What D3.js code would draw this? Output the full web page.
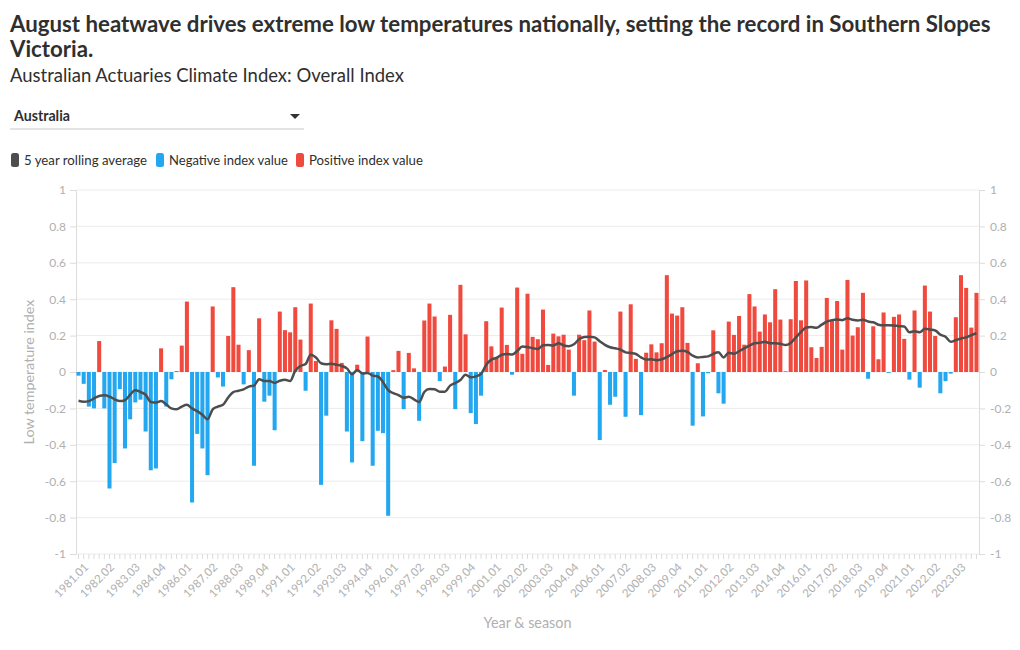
<!DOCTYPE html>
<html><head><meta charset="utf-8">
<script src="https://cdn.jsdelivr.net/npm/d3@7"></script>
<style>
body{margin:0;background:#fff;}
svg{display:block;font-family:Lato,"Open Sans",sans-serif;}
</style></head><body>
<svg id="chart" width="1020" height="650"></svg>
<script>
// ---- DATA ----
const startYear = 1981;
const endYear = 2024;
const endSeason = 3;
const seasons = ["01", "02", "03", "04"];

const indexValues = [
  -0.02, -0.065, -0.19, -0.20, 0.17, -0.20, -0.64, -0.50, -0.094, -0.42,
  -0.26, -0.167, -0.152, -0.327, -0.54, -0.53, 0.13, -0.19, -0.04, 0.005,
  0.145, 0.387, -0.717, -0.34, -0.42, -0.567, 0.36, -0.03, -0.08, 0.198,
  0.466, 0.15, -0.068, 0.12, -0.515, 0.295, -0.163, -0.13, -0.32, 0.332,
  0.23, 0.218, 0.356, 0.178, -0.103, 0.376, 0.06, -0.62, -0.24, 0.284,
  0.237, 0.05, -0.327, -0.497, 0.04, -0.38, 0.195, -0.515, -0.323, -0.336,
  -0.79, 0.01, 0.116, -0.204, 0.105, 0.02, -0.268, 0.283, 0.376, 0.305,
  -0.05, 0.03, 0.314, -0.204, 0.479, 0.207, -0.226, -0.286, -0.13, 0.279,
  0.141, 0.083, 0.354, 0.149, -0.015, 0.464, 0.10, 0.43, 0.193, 0.18,
  0.343, 0.039, 0.211, 0.196, 0.205, 0.123, -0.13, 0.205, 0.175, 0.338,
  0.167, -0.374, 0.011, -0.18, -0.136, 0.332, -0.246, 0.372, 0.072, -0.237,
  0.106, 0.152, 0.108, 0.158, 0.532, 0.321, 0.31, 0.356, 0.16, -0.295,
  0.048, -0.244, -0.007, 0.229, -0.117, -0.174, 0.277, 0.204, 0.308, 0.15,
  0.428, 0.36, 0.222, 0.316, 0.273, 0.455, 0.288, 0.004, 0.29, 0.50,
  0.284, 0.503, 0.136, 0.077, 0.138, 0.407, 0.286, 0.39, 0.123, 0.506,
  0.20, 0.246, 0.435, -0.037, 0.251, 0.07, 0.327, -0.005, 0.303, 0.316,
  0.182, -0.042, 0.338, -0.086, 0.475, 0.332, 0.198, -0.117, -0.05, -0.009,
  0.301, 0.532, 0.462, 0.244, 0.435
];

const rollingAverage = [
  -0.158, -0.163, -0.16, -0.145, -0.132, -0.128, -0.135, -0.15, -0.16, -0.155,
  -0.125, -0.10, -0.11, -0.125, -0.165, -0.168, -0.16, -0.178, -0.20, -0.205,
  -0.19, -0.18, -0.20, -0.215, -0.235, -0.26, -0.205, -0.19, -0.18, -0.14,
  -0.11, -0.103, -0.095, -0.08, -0.075, -0.04, -0.05, -0.05, -0.06, -0.048,
  -0.042, -0.05, 0.007, 0.033, 0.044, 0.095, 0.08, 0.048, 0.043, 0.045,
  0.04, 0.033, 0.02, -0.012, 0.011, -0.008, -0.005, -0.02, -0.025, -0.055,
  -0.10, -0.116, -0.127, -0.142, -0.136, -0.15, -0.165, -0.11, -0.094, -0.095,
  -0.108, -0.108, -0.075, -0.061, -0.044, -0.015, -0.029, -0.024, -0.01, 0.04,
  0.068, 0.078, 0.095, 0.099, 0.096, 0.115, 0.14, 0.137, 0.131, 0.127,
  0.147, 0.149, 0.146, 0.158, 0.146, 0.142, 0.152, 0.18, 0.192, 0.194,
  0.19, 0.169, 0.149, 0.136, 0.13, 0.123, 0.108, 0.104, 0.099, 0.08,
  0.068, 0.07, 0.065, 0.07, 0.082, 0.098, 0.114, 0.117, 0.11, 0.09,
  0.08, 0.083, 0.086, 0.10, 0.108, 0.08, 0.106, 0.10, 0.114, 0.13,
  0.145, 0.158, 0.16, 0.166, 0.158, 0.158, 0.155, 0.148, 0.16, 0.19,
  0.22, 0.245, 0.247, 0.243, 0.26, 0.277, 0.285, 0.288, 0.285, 0.295,
  0.287, 0.283, 0.287, 0.277, 0.273, 0.26, 0.257, 0.257, 0.256, 0.252,
  0.25, 0.218, 0.224, 0.218, 0.237, 0.233, 0.228, 0.205, 0.194, 0.166,
  0.175, 0.184, 0.19, 0.203, 0.213
];

const yTickValues = [-1, -0.8, -0.6, -0.4, -0.2, 0, 0.2, 0.4, 0.6, 0.8, 1];
const labelEvery = 5;

const titleLines = [
  "August heatwave drives extreme low temperatures nationally, setting the record in Southern Slopes",
  "Victoria."
];
const subtitle = "Australian Actuaries Climate Index: Overall Index";
const dropdownLabel = "Australia";
const legendLabels = ["5 year rolling average", "Negative index value", "Positive index value"];
const yTitle = "Low temperature index";
const xTitle = "Year & season";

// categories (year.season labels)
const categories = [];
for (let yr = startYear; yr <= endYear; yr++) {
  for (let s = 0; s < 4; s++) {
    if (yr === endYear && s + 1 > endSeason) break;
    categories.push(yr + "." + seasons[s]);
  }
}
const rows = categories.map((c, i) => ({cat: c, v: indexValues[i], avg: rollingAverage[i]}));

// ---- STYLE ----
const COL_NEG = "#22a7f0", COL_POS = "#f0493e", COL_LINE = "#4d4d4d";
const COL_AXIS_TXT = "#b0b0b0", COL_GRID = "#ececec", COL_AXIS = "#dcdcdc";
const COL_TXT = "#2f2f2f";

const svg = d3.select("#chart");

function fitWidth(sel, target) {
  const base = parseFloat(sel.style("font-size"));
  const w = sel.node().getComputedTextLength();
  sel.style("font-size", (base * target / w) + "px");
}

// Title
const t1 = svg.append("text").attr("x", 10).attr("y", 32).text(titleLines[0])
  .style("font-size", "22px").style("font-weight", "700").attr("fill", COL_TXT);
fitWidth(t1, 981);
const fs = t1.style("font-size");
svg.append("text").attr("x", 10).attr("y", 57).text(titleLines[1])
  .style("font-size", fs).style("font-weight", "700").attr("fill", COL_TXT);
const st = svg.append("text").attr("x", 10).attr("y", 82).text(subtitle)
  .style("font-size", "18px").attr("fill", COL_TXT);
fitWidth(st, 394);

// Dropdown
const dd = svg.append("text").attr("x", 14).attr("y", 121).text(dropdownLabel)
  .style("font-size", "13px").style("font-weight", "700").attr("fill", COL_TXT);
fitWidth(dd, 56);
svg.append("path").attr("d", "M290,114 L300,114 L295,119 Z").attr("fill", "#333");
svg.append("line").attr("x1", 10).attr("x2", 304).attr("y1", 129).attr("y2", 129)
  .attr("stroke", "#c8c8c8").attr("stroke-width", 1);

// Legend
const legendColors = [COL_LINE, COL_NEG, COL_POS];
const legendX = [11, 156, 296];
const legendW = [123, 119, 114];
legendLabels.forEach((lab, i) => {
  svg.append("rect").attr("x", legendX[i]).attr("y", 153).attr("width", 8).attr("height", 14)
    .attr("rx", 2.5).attr("fill", legendColors[i]);
  const lt = svg.append("text").attr("x", legendX[i] + 13).attr("y", 165).text(lab)
    .style("font-size", "13px").attr("fill", COL_TXT);
  fitWidth(lt, legendW[i]);
});

// Scales
const L = 76, R = 979, T = 190, B = 554;
const x = d3.scaleBand().domain(categories).range([L, R]).paddingInner(0.22).paddingOuter(0.1);
const y = d3.scaleLinear().domain([-1, 1]).range([B, T]);

// Grid
svg.append("g").selectAll("line").data(yTickValues).join("line")
  .attr("x1", L).attr("x2", R).attr("y1", d => y(d)).attr("y2", d => y(d))
  .attr("stroke", COL_GRID).attr("stroke-width", 1);

const fmt = d => String(+d.toFixed(1));
function styleAxis(g) {
  g.select(".domain").attr("stroke", COL_AXIS);
  g.selectAll(".tick line").attr("stroke", COL_AXIS);
  g.selectAll(".tick text").attr("fill", COL_AXIS_TXT).style("font-size", "12px")
    .style("font-family", "Lato, 'Open Sans', sans-serif");
}
svg.append("g").attr("transform", `translate(${L},0)`)
  .call(d3.axisLeft(y).tickValues(yTickValues).tickFormat(fmt).tickSize(6).tickPadding(4).tickSizeOuter(0))
  .call(styleAxis);
svg.append("g").attr("transform", `translate(${R},0)`)
  .call(d3.axisRight(y).tickValues(yTickValues).tickFormat(fmt).tickSize(6).tickPadding(5).tickSizeOuter(0))
  .call(styleAxis);

// X axis
const xg = svg.append("g").attr("transform", `translate(0,${B})`)
  .call(d3.axisBottom(x).tickValues(categories).tickSize(5).tickSizeOuter(0)
    .tickFormat((d, i) => i % labelEvery === 0 ? d : ""))
  .call(styleAxis);
xg.select(".domain").remove();
xg.selectAll(".tick text")
  .style("font-size", "11.5px")
  .attr("text-anchor", "end")
  .attr("transform", "translate(4,4) rotate(-45)")
  .attr("dy", "0.5em").attr("dx", "-0.2em").attr("y", 6);

// Bars
svg.append("g").selectAll("rect").data(rows).join("rect")
  .attr("x", d => x(d.cat))
  .attr("width", x.bandwidth())
  .attr("y", d => Math.min(y(d.v), y(0)))
  .attr("height", d => Math.abs(y(d.v) - y(0)))
  .attr("fill", d => d.v < 0 ? COL_NEG : COL_POS);

// Rolling average line
svg.append("path").datum(rows)
  .attr("fill", "none").attr("stroke", COL_LINE).attr("stroke-width", 2.5)
  .attr("stroke-linejoin", "round")
  .attr("d", d3.line().x(d => x(d.cat) + x.bandwidth() / 2).y(d => y(d.avg)).curve(d3.curveMonotoneX));

// Axis titles
const yt = svg.append("text").attr("transform", `translate(34,${(T + B) / 2}) rotate(-90)`)
  .attr("text-anchor", "middle").text(yTitle).style("font-size", "14px").attr("fill", COL_AXIS_TXT);
fitWidth(yt, 145);
const xt = svg.append("text").attr("x", (L + R) / 2).attr("y", 628).attr("text-anchor", "middle")
  .text(xTitle).style("font-size", "14px").attr("fill", COL_AXIS_TXT);
fitWidth(xt, 88);
</script>
</body></html>
